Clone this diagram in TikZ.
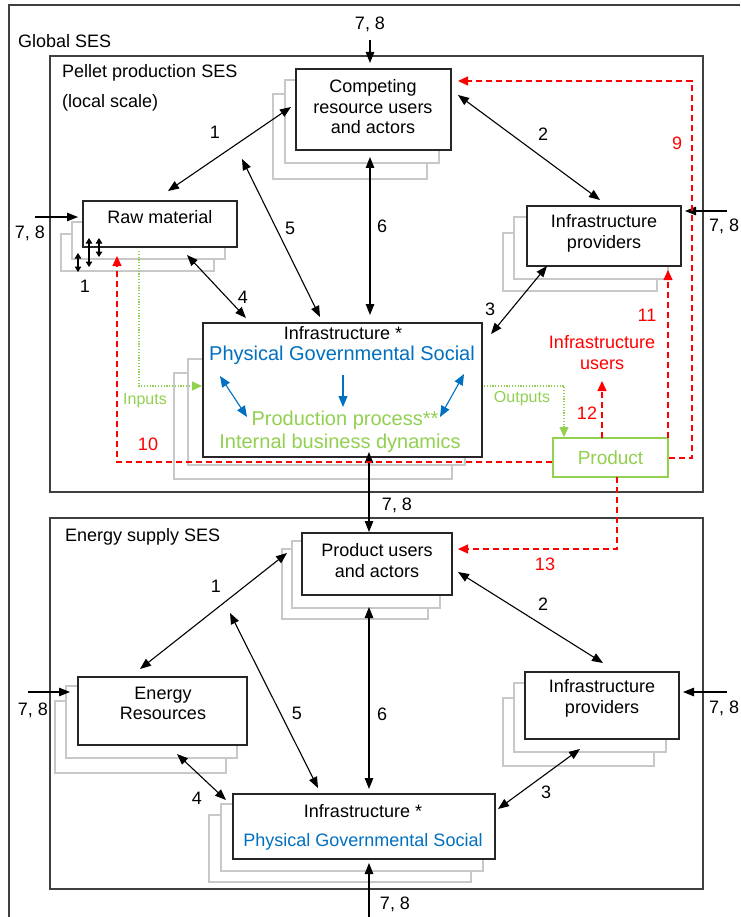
\documentclass[tikz,border=0pt]{standalone}
\usepackage{fontspec}
\setmainfont{Liberation Sans}
\usetikzlibrary{arrows.meta}
\definecolor{ablue}{HTML}{0070C0}
\definecolor{agreen}{HTML}{92D050}
\definecolor{ared}{HTML}{FF0000}
\definecolor{shade}{HTML}{C8C8C8}
\definecolor{frame}{HTML}{404040}
\begin{document}
\begin{tikzpicture}[x=1pt,y=-1pt,
  lbl/.style={font=\fontsize{18}{20.5}\selectfont, inner sep=0pt, align=center},
  biglbl/.style={font=\fontsize{20}{23}\selectfont, inner sep=0pt, align=center},
  smalllbl/.style={font=\fontsize{16}{19}\selectfont, inner sep=0pt, text=agreen},
  boxnode/.style={draw=black!85, line width=1.3pt, fill=white, inner sep=0pt},
  shadowbox/.style={draw=shade, line width=1.3pt, fill=white},
  sesframe/.style={draw=frame, line width=1.5pt},
  link/.style={draw=black, line width=1.1pt, {Triangle[length=11pt,width=8.5pt]}-{Triangle[length=11pt,width=8.5pt]}},
  onelink/.style={draw=black, line width=1.1pt, -{Triangle[length=11pt,width=8.5pt]}},
  tinylink/.style={draw=black, line width=1.1pt, {Triangle[length=5.5pt,width=6.5pt]}-{Triangle[length=5.5pt,width=6.5pt]}},
  bluelink/.style={draw=ablue, line width=1.1pt, {Triangle[length=11pt,width=9pt]}-{Triangle[length=11pt,width=9pt]}},
  blueone/.style={draw=ablue, line width=1.1pt, -{Triangle[length=11pt,width=9pt]}},
  redlink/.style={draw=ared, line width=1.2pt, dash pattern=on 6pt off 4pt, -{Triangle[length=10pt,width=9pt]}},
  greenlink/.style={draw=agreen, line width=1.2pt, dash pattern=on 1.2pt off 1.6pt, -{Triangle[length=10pt,width=9pt]}},
]
\useasboundingbox (0,0) rectangle (740,917);
\fill[white] (0,0) rectangle (740,917);

% ---------- frames ----------
\draw[sesframe] (740,5) -- (9,5) -- (9,917);
\node[lbl, anchor=west] (globallbl) at (18,41) {Global SES};
\draw[sesframe] (50,56) rectangle (703,492);
\node[lbl, anchor=west] (pelletlbl) at (62,73) {Pellet production SES};
\node[lbl, anchor=west] (locallbl) at (62,103) {(local scale)};
\draw[sesframe] (50,518) rectangle (703,889);
\node[lbl, anchor=west] (energylbl) at (65,537) {Energy supply SES};

% ---------- upper boxes ----------
\draw[shadowbox] (273,94) rectangle (427,179);
\draw[shadowbox] (285,80) rectangle (439,163);
\node[boxnode, minimum width=155, minimum height=81] (comp) at (373.5,109.5) {};
\node[lbl] (compt) at (373,107) {Competing\\resource users\\and actors};

\draw[shadowbox] (61,234) rectangle (214,271);
\draw[shadowbox] (72,222) rectangle (225,259);
\node[boxnode, minimum width=154, minimum height=46] (raw) at (160,224) {};
\node[lbl] (rawt) at (160,217) {Raw material};

\draw[shadowbox] (503,233) rectangle (657,291);
\draw[shadowbox] (514,217) rectangle (668,279);
\node[boxnode, minimum width=154, minimum height=60] (prov) at (604,236) {};
\node[lbl] (provt) at (604,233.5) {Infrastructure\\providers};

\draw[shadowbox] (174,373) rectangle (452,479);
\draw[shadowbox] (188,359) rectangle (465,465);
\node[boxnode, minimum width=279, minimum height=134] (infra) at (342.5,390) {};
\node[lbl] (infrat) at (343,333) {Infrastructure *};
\node[biglbl, text=ablue] (pgs) at (342,355) {Physical Governmental Social};
\node[biglbl, text=agreen] (prodproc) at (345,420) {Production process**};
\node[biglbl, text=agreen] (ibd) at (340,443) {Internal business dynamics};

\node[draw=agreen, line width=1.3pt, fill=white, minimum width=115, minimum height=39, inner sep=0pt,
      font=\fontsize{19}{22}\selectfont, text=agreen] (product) at (610.5,457.5) {Product};

\node[lbl, text=ared] (iusers) at (602,352.5) {Infrastructure\\users};

% ---------- lower boxes ----------
\draw[shadowbox] (282,549) rectangle (428,619);
\draw[shadowbox] (292,541) rectangle (440,608);
\node[boxnode, minimum width=150, minimum height=62] (puser) at (377,564) {};
\node[lbl] (pusert) at (377,560.5) {Product users\\and actors};

\draw[shadowbox] (55,701) rectangle (226,773);
\draw[shadowbox] (66,686) rectangle (237,758);
\node[boxnode, minimum width=169, minimum height=68] (eres) at (162.5,711) {};
\node[lbl] (erest) at (163,703.5) {Energy\\Resources};

\draw[shadowbox] (503,698) rectangle (654,766);
\draw[shadowbox] (514,683) rectangle (666,752);
\node[boxnode, minimum width=154, minimum height=67] (iprov) at (602,705.5) {};
\node[lbl] (iprovt) at (602,698.5) {Infrastructure\\providers};

\draw[shadowbox] (209,815) rectangle (471,882);
\draw[shadowbox] (221,804) rectangle (483,871);
\node[boxnode, minimum width=262, minimum height=65] (infrb) at (364,826.5) {};
\node[lbl] (infrbt) at (363,811) {Infrastructure *};
\node[lbl, text=ablue] (pgsb) at (363,842) {Physical Governmental Social};

% ---------- coordinates ----------
\coordinate (u1a) at (168,191); \coordinate (u1b) at (291,107);
\coordinate (u2a) at (458,95);  \coordinate (u2b) at (600,200);
\coordinate (u3a) at (547,266); \coordinate (u3b) at (491,334);
\coordinate (u4a) at (187,255); \coordinate (u4b) at (246,318);
\coordinate (u5a) at (242,159); \coordinate (u5b) at (320,317);
\coordinate (u6a) at (370,157); \coordinate (u6b) at (370,315);
\coordinate (t78a) at (370,40); \coordinate (t78b) at (370,63);
\coordinate (l78a) at (35,217); \coordinate (l78b) at (78,217);
\coordinate (r78a) at (727,211); \coordinate (r78b) at (685,211);
\coordinate (m78a) at (369,452); \coordinate (m78b) at (369,532);
\coordinate (s1a) at (78,253); \coordinate (s1b) at (78,272);
\coordinate (s2a) at (89,238); \coordinate (s2b) at (89,267);
\coordinate (s3a) at (99,238); \coordinate (s3b) at (99,257);

\coordinate (b1a) at (140,669); \coordinate (b1b) at (287,553);
\coordinate (b2a) at (458,572); \coordinate (b2b) at (603,663);
\coordinate (b3a) at (580,749); \coordinate (b3b) at (498,809);
\coordinate (b4a) at (177,754); \coordinate (b4b) at (226,800);
\coordinate (b5a) at (230,613); \coordinate (b5b) at (318,788);
\coordinate (b6a) at (369,607); \coordinate (b6b) at (369,789);
\coordinate (bl78a) at (28,692); \coordinate (bl78b) at (70,692);
\coordinate (br78a) at (727,692); \coordinate (br78b) at (683,692);
\coordinate (bb78a) at (369,917); \coordinate (bb78b) at (369,863);

\coordinate (bl1a) at (220,376); \coordinate (bl1b) at (247,417);
\coordinate (bl2a) at (343,375); \coordinate (bl2b) at (343,407);
\coordinate (bl3a) at (464,374); \coordinate (bl3b) at (440,417);

% ---------- upper connectors ----------
\draw[link] (u1a) -- (u1b);
\draw[link] (u2a) -- (u2b);
\draw[link] (u3a) -- (u3b);
\draw[link] (u4a) -- (u4b);
\draw[link] (u5a) -- (u5b);
\draw[link] (u6a) -- (u6b);
\draw[onelink] (t78a) -- (t78b);
\draw[onelink] (l78a) -- (l78b);
\draw[onelink] (r78a) -- (r78b);
\draw[link] (m78a) -- (m78b);
\draw[tinylink] (s1a) -- (s1b);
\draw[tinylink] (s2a) -- (s2b);
\draw[tinylink] (s3a) -- (s3b);

\node[lbl] (n1) at (215,132) {1};
\node[lbl] (n2) at (543,134) {2};
\node[lbl] (n3) at (490,309) {3};
\node[lbl] (n4) at (243,297) {4};
\node[lbl] (n5) at (290,228) {5};
\node[lbl] (n6) at (382,226) {6};
\node[lbl] (n1s) at (85,286) {1};
\node[lbl] (t78) at (370,24) {7, 8};
\node[lbl] (l78) at (30,233) {7, 8};
\node[lbl, anchor=west] (r78) at (709,226) {7, 8};
\node[lbl] (m78) at (397,505) {7, 8};

% blue
\draw[bluelink] (bl1a) -- (bl1b);
\draw[blueone] (bl2a) -- (bl2b);
\draw[bluelink] (bl3a) -- (bl3b);

% green flows
\coordinate (gin0) at (139,251); \coordinate (gin1) at (139,386); \coordinate (gin2) at (202,386);
\draw[greenlink] (gin0) -- (gin1) -- (gin2);
\coordinate (gout0) at (484,386); \coordinate (gout1) at (564,386); \coordinate (gout2) at (564,437);
\draw[greenlink] (gout0) -- (gout1) -- (gout2);
\node[smalllbl] (inputs) at (145,401) {Inputs};
\node[smalllbl] (outputs) at (522,399) {Outputs};

% red flows
\coordinate (r9a) at (692,458); \coordinate (r9b) at (692,81); \coordinate (r9c) at (458,81);
\draw[redlink] (product.east |- r9a) -- (r9a) -- (r9b) -- (r9c);
\coordinate (r10a) at (117,462); \coordinate (r10b) at (117,256);
\draw[redlink] (product.west |- r10a) -- (r10a) -- (r10b);
\coordinate (r11a) at (668,438); \coordinate (r11b) at (668,270);
\draw[redlink] (r11a) -- (r11b);
\coordinate (r12a) at (602,438); \coordinate (r12b) at (602,381);
\draw[redlink] (r12a) -- (r12b);
\coordinate (r13a) at (617,477); \coordinate (r13b) at (617,549); \coordinate (r13c) at (458,549);
\draw[redlink] (r13a) -- (r13b) -- (r13c);
\node[lbl, text=ared] (n9) at (677,143) {9};
\node[lbl, text=ared] (n10) at (148,444) {10};
\node[lbl, text=ared] (n11) at (647,315) {11};
\node[lbl, text=ared] (n12) at (587,413) {12};
\node[lbl, text=ared] (n13) at (545,564) {13};

% ---------- lower connectors ----------
\draw[link] (b1a) -- (b1b);
\draw[link] (b2a) -- (b2b);
\draw[link] (b3a) -- (b3b);
\draw[link] (b4a) -- (b4b);
\draw[link] (b5a) -- (b5b);
\draw[link] (b6a) -- (b6b);
\draw[onelink] (bl78a) -- (bl78b);
\draw[onelink] (br78a) -- (br78b);
\draw[onelink] (bb78a) -- (bb78b);

\node[lbl] (m1) at (216,586) {1};
\node[lbl] (m2) at (543,604) {2};
\node[lbl] (m3) at (546,792) {3};
\node[lbl] (m4) at (197,798) {4};
\node[lbl] (m5) at (297,713) {5};
\node[lbl] (m6) at (382,714) {6};
\node[lbl] (bl78) at (33,710) {7, 8};
\node[lbl, anchor=west] (br78) at (709,708) {7, 8};
\node[lbl] (bb78) at (395,904) {7, 8};
\end{tikzpicture}
\end{document}
